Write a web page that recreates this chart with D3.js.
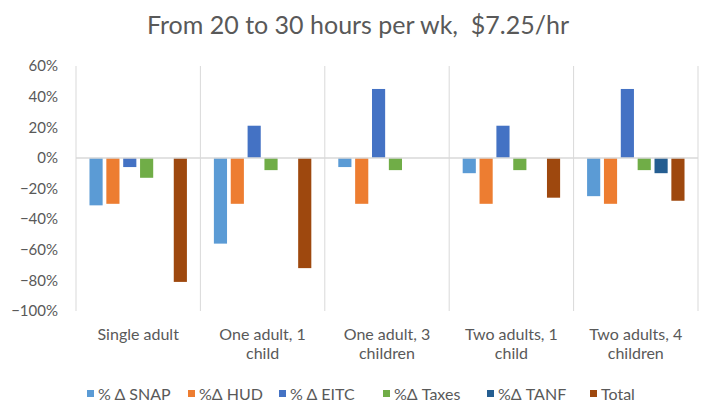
<!DOCTYPE html>
<html>
<head>
<meta charset="utf-8">
<script src="https://cdn.jsdelivr.net/npm/d3@7"></script>
<style>
  html, body { margin: 0; padding: 0; background: #fff; }
  svg { display: block; }
  text { font-family: Lato, "Open Sans", sans-serif; fill: #595959; }
</style>
</head>
<body>
<svg id="chart" width="705" height="403"></svg>
<script>
// Household types (x categories), label lines split for wrapping
const categories = ["Single adult", "One adult, 1 child", "One adult, 3 children", "Two adults, 1 child", "Two adults, 4 children"];
const categoryLines = [["Single adult"], ["One adult, 1", "child"], ["One adult, 3", "children"], ["Two adults, 1", "child"], ["Two adults, 4", "children"]];

// Series names and percent changes per household type
const seriesNames = ["% \u0394 SNAP", "%\u0394 HUD", "% \u0394 EITC", "%\u0394 Taxes", "%\u0394 TANF", "Total"];
const snap   = [-0.31, -0.56, -0.06, -0.10, -0.25];
const hud    = [-0.30, -0.30, -0.30, -0.30, -0.30];
const eitc   = [-0.06,  0.21,  0.45,  0.21,  0.45];
const taxes  = [-0.13, -0.08, -0.08, -0.08, -0.08];
const tanf   = [ 0.00,  0.00,  0.00,  0.00, -0.10];
const total  = [-0.81, -0.72,  0.00, -0.26, -0.28];
const seriesValues = [snap, hud, eitc, taxes, tanf, total];
const colors = ["#5B9BD5", "#ED7D31", "#4472C4", "#70AD47", "#255E91", "#9E480E"];

const yTicks = [0.6, 0.4, 0.2, 0, -0.2, -0.4, -0.6, -0.8, -1.0];

const svg = d3.select("#chart");
const margin = { left: 76, right: 7, top: 66, bottom: 92 };
const W = 705, H = 403;

const x0 = d3.scaleBand().domain(categories).range([margin.left, W - margin.right]).padding(0);
const x1 = d3.scaleBand().domain(d3.range(seriesNames.length))
  .range([0, x0.bandwidth()]).paddingInner(0.22).paddingOuter(0.8);
const y = d3.scaleLinear().domain([-1.0, 0.6]).range([H - margin.bottom, margin.top]);

// Title
svg.append("text")
  .attr("x", 358).attr("y", 34)
  .attr("text-anchor", "middle")
  .attr("xml:space", "preserve")
  .style("white-space", "pre")
  .style("font-size", "25px")
  .text("From 20 to 30 hours per wk,  $7.25/hr");

// Vertical category separators (including left axis line)
const seps = categories.map(c => x0(c)).concat([x0.range()[1]]);
svg.append("g").selectAll("line").data(seps).join("line")
  .attr("x1", d => d).attr("x2", d => d)
  .attr("y1", y(0.6)).attr("y2", y(-1.0))
  .attr("stroke", "#d9d9d9").attr("stroke-width", 1);

// Y axis labels
const yAxis = d3.axisLeft(y).tickValues(yTicks).tickSize(0).tickPadding(0)
  .tickFormat(d3.format(".0%"));
const gy = svg.append("g").attr("transform", `translate(${margin.left - 18},0)`).call(yAxis);
gy.select(".domain").remove();
gy.selectAll("text").style("font-size", "15px").attr("fill", "#595959")
  .style("font-family", "Lato, sans-serif");

// Bars
const groups = svg.append("g").selectAll("g").data(categories).join("g")
  .attr("transform", c => `translate(${x0(c)},0)`);
groups.selectAll("rect")
  .data((c, ci) => seriesValues.map((vals, si) => ({ si, v: vals[ci] })).filter(d => d.v !== 0))
  .join("rect")
  .attr("x", d => x1(d.si))
  .attr("width", x1.bandwidth())
  .attr("y", d => y(Math.max(0, d.v)))
  .attr("height", d => Math.abs(y(d.v) - y(0)))
  .attr("fill", d => colors[d.si]);

// Zero line
svg.append("line")
  .attr("x1", margin.left).attr("x2", W - margin.right)
  .attr("y1", y(0)).attr("y2", y(0))
  .attr("stroke", "#d9d9d9").attr("stroke-width", 1.5);

// Category labels
const cl = svg.append("g").selectAll("text").data(categories).join("text")
  .attr("x", c => x0(c) + x0.bandwidth() / 2)
  .attr("y", 340)
  .attr("text-anchor", "middle")
  .style("font-size", "16px");
cl.selectAll("tspan").data((c, i) => categoryLines[i]).join("tspan")
  .attr("x", function () { return d3.select(this.parentNode).attr("x"); })
  .attr("dy", (d, i) => i === 0 ? 0 : 19)
  .text(d => d);

// Legend
const legendX = [87, 188, 279, 383, 487, 590];
const lg = svg.append("g").selectAll("g").data(seriesNames).join("g")
  .attr("transform", (d, i) => `translate(${legendX[i]},394)`);
lg.append("rect").attr("x", 0).attr("y", -4).attr("width", 7).attr("height", 7)
  .attr("fill", (d, i) => colors[i]);
lg.append("text").attr("x", 11).attr("y", 5.5).style("font-size", "16px").text(d => d);
</script>
</body>
</html>
